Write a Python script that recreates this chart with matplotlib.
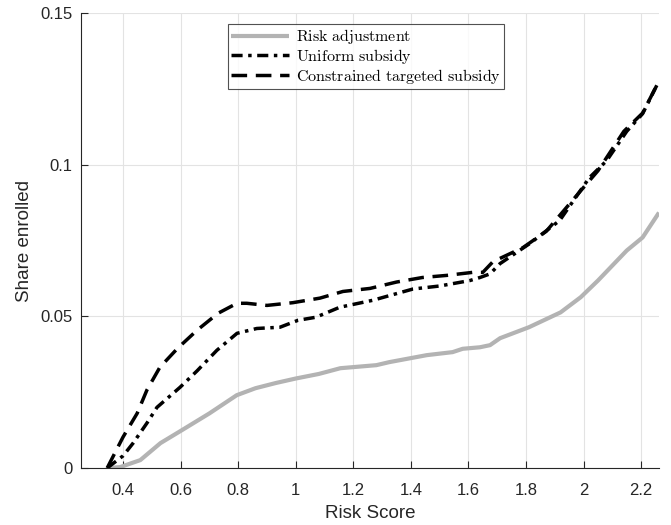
import matplotlib
matplotlib.use("Agg")
import matplotlib.pyplot as plt

plt.rcParams['font.family'] = ['Liberation Sans', 'DejaVu Sans']
plt.rcParams['mathtext.fontset'] = 'cm'

# Risk adjustment (gray solid)
ra_x = [0.35, 0.39, 0.46, 0.53, 0.605, 0.70, 0.795, 0.86, 0.93, 1.0, 1.08, 1.155, 1.28,
        1.325, 1.455, 1.545, 1.58, 1.64, 1.675, 1.71, 1.81, 1.92, 1.99, 2.05, 2.15, 2.205, 2.262]
ra_y = [0.0, 0.0003, 0.0026, 0.0082, 0.0125, 0.018, 0.024, 0.0263, 0.028, 0.0295, 0.031,
        0.0329, 0.0339, 0.0349, 0.0372, 0.0382, 0.0393, 0.0398, 0.0405, 0.0428, 0.0464,
        0.0513, 0.0563, 0.0618, 0.0717, 0.076, 0.0842]

# Uniform subsidy (dash-dot)
us_x = [0.345, 0.40, 0.435, 0.483, 0.518, 0.598, 0.657, 0.726, 0.796, 0.865, 0.945, 1.008,
        1.07, 1.153, 1.268, 1.407, 1.5, 1.605, 1.64, 1.675, 1.71, 1.813, 1.917, 2.02, 2.08,
        2.15, 2.205, 2.262]
us_y = [0.0, 0.004, 0.0082, 0.0148, 0.020, 0.0266, 0.032, 0.0388, 0.0444, 0.046, 0.0464,
        0.0487, 0.0497, 0.053, 0.0553, 0.059, 0.060, 0.0618, 0.0628, 0.0640, 0.0674, 0.074,
        0.0816, 0.0957, 0.1013, 0.111, 0.1168, 0.1276]

# Constrained targeted subsidy (dashed)
cs_x = [0.345, 0.40, 0.449, 0.483, 0.528, 0.59, 0.657, 0.73, 0.796, 0.83, 0.9, 0.99,
        1.084, 1.164, 1.258, 1.35, 1.44, 1.525, 1.615, 1.65, 1.685, 1.79, 1.87, 1.99,
        2.05, 2.14, 2.205, 2.262]
cs_y = [0.0, 0.0102, 0.018, 0.0257, 0.0332, 0.0395, 0.0454, 0.051, 0.0543, 0.0543, 0.0536,
        0.0545, 0.056, 0.0582, 0.0592, 0.0613, 0.0628, 0.0635, 0.0645, 0.0645, 0.068,
        0.0727, 0.078, 0.0914, 0.098, 0.111, 0.117, 0.1276]

xticks = [0.4, 0.6, 0.8, 1.0, 1.2, 1.4, 1.6, 1.8, 2.0, 2.2]
xtick_labels = ['0.4', '0.6', '0.8', '1', '1.2', '1.4', '1.6', '1.8', '2', '2.2']
yticks = [0, 0.05, 0.1, 0.15]
ytick_labels = ['0', '0.05', '0.1', '0.15']

fig = plt.figure(figsize=(6.71, 5.25), dpi=100)
ax = fig.add_axes([81/671, 1-468/525, (659-81)/671, (468-13)/525])

ax.plot(ra_x, ra_y, color='#b3b3b3', lw=3.0, solid_capstyle='butt',
        label=r'$\mathrm{Risk\ adjustment}$')
ax.plot(us_x, us_y, color='black', lw=2.5, linestyle=(0, (3.2, 1.6, 1.0, 1.6)),
        label=r'$\mathrm{Uniform\ subsidy}$')
ax.plot(cs_x, cs_y, color='black', lw=2.5, linestyle=(0, (4.5, 2.5)),
        label=r'$\mathrm{Constrained\ targeted\ subsidy}$')

ax.set_xlim(0.254, 2.262)
ax.set_ylim(0, 0.15)
ax.set_xticks(xticks)
ax.set_xticklabels(xtick_labels)
ax.set_yticks(yticks)
ax.set_yticklabels(ytick_labels)
ax.grid(True, color='#e3e3e3', lw=0.8)
ax.set_axisbelow(True)
for s in ['top', 'right']:
    ax.spines[s].set_visible(False)
for s in ['left', 'bottom']:
    ax.spines[s].set_color('#262626')
    ax.spines[s].set_linewidth(0.8)
ax.tick_params(direction='in', length=5, width=0.8, colors='#262626', labelsize=12,
               labelcolor='#262626')
ax.tick_params(axis='x', pad=11)
ax.tick_params(axis='y', pad=6)
ax.set_xlabel('Risk Score', fontsize=13.5, color='#262626', labelpad=5)
ax.set_ylabel('Share enrolled', fontsize=13.5, color='#262626', labelpad=5)

leg = ax.legend(loc='upper left', bbox_to_anchor=(0.254, 0.976), fontsize=11.5,
                frameon=True, fancybox=False, edgecolor='#262626', handlelength=3.6,
                handletextpad=0.45, borderpad=0.2, labelspacing=0.05, borderaxespad=0)
leg.get_frame().set_linewidth(0.8)

fig.savefig('out.png', dpi=100)
